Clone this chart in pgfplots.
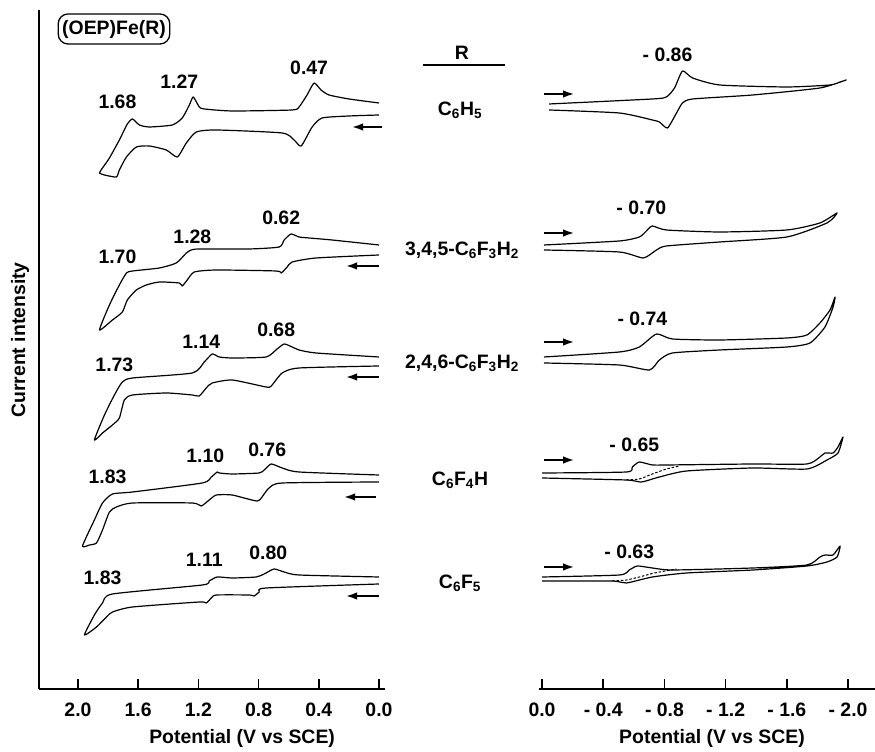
\documentclass[border=0pt]{standalone}
\usepackage{pgfplots}
\pgfplotsset{compat=1.18}
\usepackage{fontspec}
\setmainfont{Liberation Sans}
\usetikzlibrary{arrows.meta}
\newcommand{\lf}{\bfseries\fontsize{19.5}{22}\selectfont}
\tikzset{
  arr/.style={black, line width=1.8bp, -{Latex[length=11bp,width=7.5bp]}},
  pk/.style={font=\lf, anchor=center},
}
\begin{document}
\begin{tikzpicture}[x=1bp,y=1bp]
\useasboundingbox (0,0) rectangle (875,752);
\pgfplotsset{
  cv/.style={black, line width=1.2bp, line join=round, mark=none, smooth, tension=0.35},
  cvd/.style={black, line width=1bp, mark=none, smooth, tension=0.35, dash pattern=on 2.5bp off 1.8bp},
  every axis/.append style={
    scale only axis, clip=false,
    ymin=-1, ymax=678, height=679bp,
    ytick=\empty,
    xtick pos=lower, tick align=inside,
    major tick length=10bp,
    tick style={black, line width=1.5bp},
    axis line style={black, line width=1.5bp},
    every tick label/.append style={font=\lf},
    xticklabel style={anchor=center, yshift=-21bp},
    label style={font=\lf},
  },
}
% ---------------- left panel (oxidations) ----------------
\begin{axis}[
  at={(39bp,63bp)}, anchor=south west,
  width=346bp,
  x dir=reverse, xmin=-0.040, xmax=2.259,
  axis x line*=bottom, axis y line*=left,
  xtick={0,0.4,0.8,1.2,1.6,2.0},
  xticklabels={0.0,0.4,0.8,1.2,1.6,2.0},
  xlabel={Potential (V vs SCE)},
  xlabel style={at={(axis description cs:0.587,0)}, anchor=center, yshift=-49bp},
  ylabel={Current intensity},
  ylabel style={at={(axis description cs:0,0.514)}, anchor=center, yshift=19bp},
]
% C6H5
\addplot[cv] coordinates {(0.000,585) (0.199,589) (0.332,593) (0.385,598) (0.431,605) (0.478,593) (0.531,581) (0.577,578) (0.975,577) (1.161,579) (1.194,581) (1.234,591) (1.260,583) (1.307,570) (1.373,563) (1.526,561) (1.592,563) (1.638,569) (1.672,564) (1.725,548) (1.791,530) (1.837,520) (1.857,515) (1.824,513) (1.745,511) (1.725,518) (1.678,531) (1.612,541) (1.526,542) (1.413,538) (1.340,531) (1.280,545) (1.214,556) (1.081,558) (0.643,555) (0.564,548) (0.517,542) (0.444,561) (0.378,570) (0.199,572) (0.000,573)};
% 3,4,5-C6F3H2
\addplot[cv] coordinates {(0,443) (0.312,448) (0.464,450) (0.531,451) (0.584,454) (0.630,448) (0.663,441) (0.862,439) (1.194,439) (1.247,438) (1.280,435) (1.347,425) (1.459,420) (1.638,417) (1.678,415) (1.725,403) (1.791,383) (1.857,358) (1.771,368) (1.705,376) (1.672,388) (1.612,398) (1.546,403) (1.459,406) (1.327,405) (1.307,402) (1.274,408) (1.227,416) (1.081,418) (0.683,417) (0.650,415) (0.610,421) (0.577,426) (0.418,430) (0,433)};
% 2,4,6-C6F3H2
\addplot[cv] coordinates {(0,331) (0.418,335) (0.531,338) (0.577,341) (0.630,344) (0.677,339) (0.750,331) (0.975,330) (1.061,331) (1.108,334) (1.161,326) (1.240,315) (1.638,310) (1.705,306) (1.758,293) (1.824,273) (1.891,248) (1.837,255) (1.771,263) (1.725,270) (1.692,288) (1.638,293) (1.413,295) (1.240,293) (1.194,292) (1.148,300) (1.108,305) (0.975,308) (0.750,301) (0.716,302) (0.643,315) (0.531,320) (0,322)};
% C6F4H
\addplot[cv] coordinates {(0,213) (0.531,216) (0.643,220) (0.716,224) (0.763,218) (0.796,215) (0.975,214) (1.061,215) (1.075,216) (1.114,211) (1.174,205) (1.638,196) (1.771,194) (1.837,185) (1.891,168) (1.970,142) (1.924,143) (1.877,145) (1.837,158) (1.791,176) (1.745,181) (1.638,185) (1.240,185) (1.181,182) (1.128,188) (1.081,193) (0.975,193) (0.809,187) (0.763,194) (0.730,200) (0.643,205) (0,206)};
% C6F5
\addplot[cv] coordinates {(0,111) (0.531,113) (0.630,116) (0.697,119) (0.763,114) (0.816,111) (0.975,110) (1.075,111) (1.128,107) (1.174,103) (1.771,94) (1.837,85) (1.891,73) (1.957,53) (1.877,61) (1.811,71) (1.771,76) (1.638,81) (1.194,86) (1.148,85) (1.114,90) (1.081,93) (0.862,93) (0.829,92) (0.796,96) (0.750,100) (0,104)};
% scan direction arrows
\draw[arr] (axis cs:-0.02,561) -- (axis cs:0.179,561);
\draw[arr] (axis cs:0,422) -- (axis cs:0.219,422);
\draw[arr] (axis cs:0,311) -- (axis cs:0.219,311);
\draw[arr] (axis cs:0.02,191) -- (axis cs:0.232,191);
\draw[arr] (axis cs:0,92) -- (axis cs:0.219,92);
% peak potentials
\node[pk] at (axis cs:1.738,586) {1.68};
\node[pk] at (axis cs:1.327,606) {1.27};
\node[pk] at (axis cs:0.464,620) {0.47};
\node[pk] at (axis cs:1.738,431) {1.70};
\node[pk] at (axis cs:1.240,451) {1.28};
\node[pk] at (axis cs:0.650,470) {0.62};
\node[pk] at (axis cs:1.758,323) {1.73};
\node[pk] at (axis cs:1.181,346) {1.14};
\node[pk] at (axis cs:0.683,358) {0.68};
\node[pk] at (axis cs:1.804,211) {1.83};
\node[pk] at (axis cs:1.154,232) {1.10};
\node[pk] at (axis cs:0.743,238) {0.76};
\node[pk] at (axis cs:1.837,110) {1.83};
\node[pk] at (axis cs:1.161,128) {1.11};
\node[pk] at (axis cs:0.736,135) {0.80};
\end{axis}
% ---------------- right panel (reductions) ----------------
\begin{axis}[
  at={(539bp,63bp)}, anchor=south west,
  width=336bp,
  x dir=reverse, xmin=-2.176, xmax=0.0196,
  axis x line*=bottom, hide y axis,
  xtick={0,-0.4,-0.8,-1.2,-1.6,-2.0},
  xticklabels={0.0,- 0.4,- 0.8,- 1.2,- 1.6,- 2.0},
  xlabel={Potential (V vs SCE)},
  xlabel style={at={(axis description cs:0.515,0)}, anchor=center, yshift=-49bp},
]
% C6H5
\addplot[cv] coordinates {(-0.046,584) (-0.721,589) (-0.813,591) (-0.866,600) (-0.918,617) (-0.984,610) (-1.161,603) (-1.600,601) (-1.882,603) (-1.948,606) (-1.987,608) (-1.816,600) (-1.377,593) (-0.984,589) (-0.918,585) (-0.879,575) (-0.820,560) (-0.767,566) (-0.721,568) (-0.505,575) (-0.046,578)};
% 3,4,5-C6F3H2
\addplot[cv] coordinates {(-0.013,443) (-0.505,447) (-0.636,451) (-0.682,457) (-0.721,462) (-0.813,458) (-1.161,456) (-1.600,458) (-1.816,465) (-1.928,475) (-1.862,465) (-1.600,451) (-1.161,446) (-0.813,442) (-0.748,438) (-0.662,430) (-0.505,436) (-0.013,438)};
% 2,4,6-C6F3H2
\addplot[cv] coordinates {(-0.013,331) (-0.505,336) (-0.636,341) (-0.748,354) (-0.852,349) (-1.161,348) (-1.600,350) (-1.731,353) (-1.816,365) (-1.882,378) (-1.915,391) (-1.902,381) (-1.849,361) (-1.751,345) (-1.600,341) (-1.161,338) (-0.852,335) (-0.767,328) (-0.702,318) (-0.505,323) (-0.013,325)};
% C6F4H
\addplot[cv] coordinates {(0,215) (-0.551,216) (-0.590,221) (-0.636,226) (-0.721,223) (-0.813,223) (-1.377,224) (-1.731,224) (-1.816,231) (-1.849,235) (-1.902,235) (-1.934,241) (-1.967,251) (-1.934,235) (-1.862,228) (-1.731,219) (-1.377,220) (-0.944,217) (-0.767,211) (-0.649,206) (-0.551,208) (0,210)};
\addplot[cvd] coordinates {(-0.551,208) (-0.636,209) (-0.721,214) (-0.813,219) (-0.898,222)};
% C6F5
\addplot[cv] coordinates {(0,111) (-0.505,113) (-0.570,118) (-0.623,122) (-0.721,120) (-0.852,118) (-1.377,120) (-1.731,123) (-1.816,131) (-1.849,133) (-1.902,133) (-1.948,142) (-1.928,131) (-1.862,126) (-1.731,122) (-1.377,118) (-0.944,115) (-0.721,111) (-0.551,105) (-0.459,107) (0,107)};
\addplot[cvd] coordinates {(-0.459,107) (-0.551,108) (-0.636,111) (-0.734,115) (-0.879,119)};
% scan direction arrows
\draw[arr] (axis cs:-0.013,594) -- (axis cs:-0.21,594);
\draw[arr] (axis cs:-0.013,455) -- (axis cs:-0.21,455);
\draw[arr] (axis cs:-0.013,346) -- (axis cs:-0.21,346);
\draw[arr] (axis cs:-0.013,228) -- (axis cs:-0.21,228);
\draw[arr] (axis cs:-0.013,121) -- (axis cs:-0.21,121);
% peak potentials
\node[pk] at (axis cs:-0.820,633) {- 0.86};
\node[pk] at (axis cs:-0.649,480) {- 0.70};
\node[pk] at (axis cs:-0.656,369) {- 0.74};
\node[pk] at (axis cs:-0.603,243) {- 0.65};
\node[pk] at (axis cs:-0.570,136) {- 0.63};
\end{axis}
% ---------------- middle column: substituent R ----------------
\node[font=\lf] at (462,699) {R};
\draw[line width=1.5bp] (423,687) -- (505,687);
\node[font=\lf] at (460,642) {C\textsubscript{6}H\textsubscript{5}};
\node[font=\lf] at (462,502) {3,4,5-C\textsubscript{6}F\textsubscript{3}H\textsubscript{2}};
\node[font=\lf] at (462,389) {2,4,6-C\textsubscript{6}F\textsubscript{3}H\textsubscript{2}};
\node[font=\lf] at (460,272) {C\textsubscript{6}F\textsubscript{4}H};
\node[font=\lf] at (460,169) {C\textsubscript{6}F\textsubscript{5}};
% compound label
\node[font=\lf, draw, line width=1.3bp, rounded corners=10bp, inner xsep=4bp, inner ysep=6bp] at (114,723) {(OEP)Fe(R)};
\end{tikzpicture}
\end{document}
